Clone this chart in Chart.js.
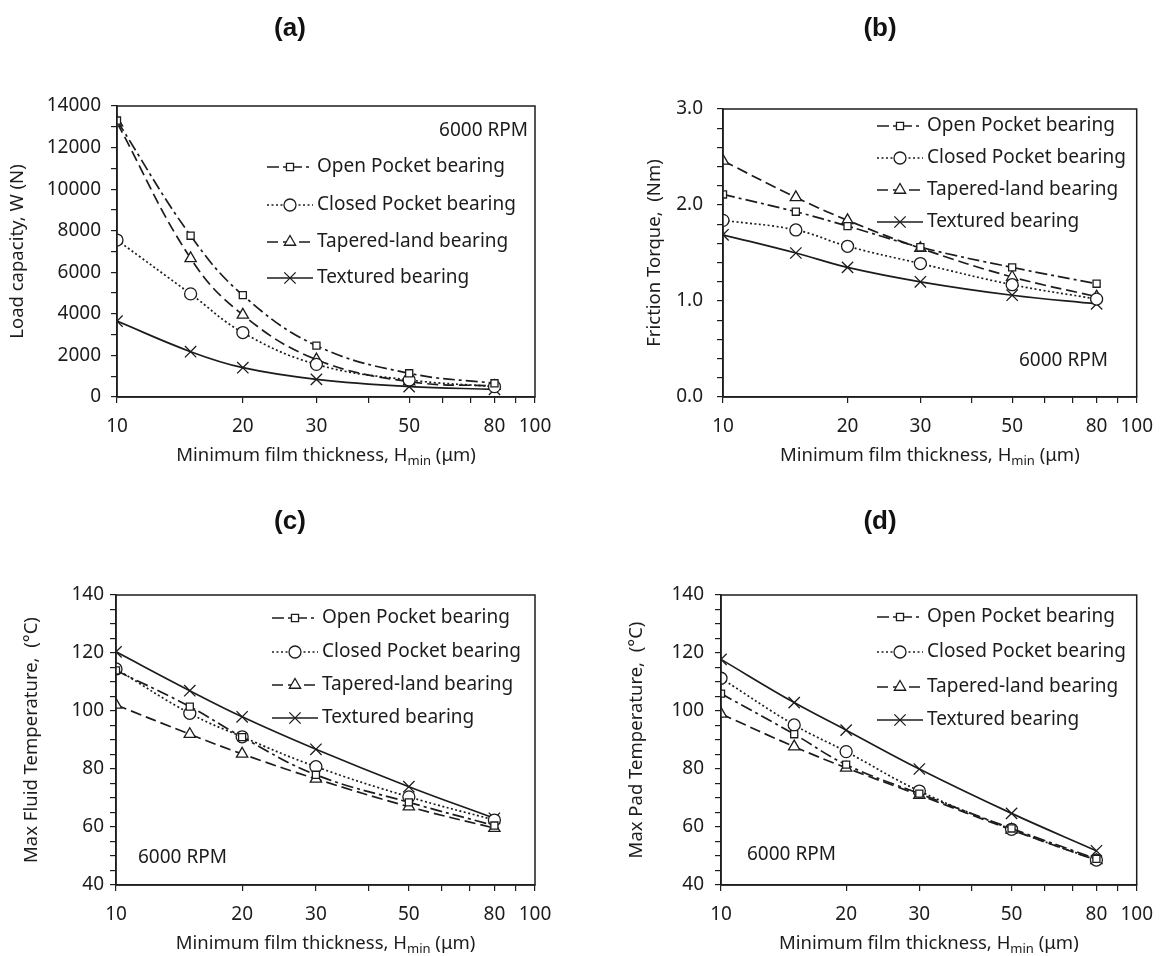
<!DOCTYPE html>
<html>
<head>
<meta charset="utf-8">
<script src="https://cdn.jsdelivr.net/npm/chart.js@4.4.1/dist/chart.umd.min.js"></script>
<style>
  body { margin: 0; background: #fff; }
  #page { position: relative; width: 1165px; height: 956px; overflow: hidden; background: #fff; }
  #page canvas { position: absolute; }
  .tag { position: absolute; transform: translate(-50%, -50%); font: bold 26px 'Liberation Sans', Arial, sans-serif; color: #111; z-index: 2; }
</style>
</head>
<body>
<div id="page">
  <div class="tag" style="left:290px; top:27px">(a)</div>
  <div class="tag" style="left:880px; top:27px">(b)</div>
  <div class="tag" style="left:290px; top:520px">(c)</div>
  <div class="tag" style="left:880px; top:520px">(d)</div>
  <canvas id="chartA" width="582" height="478" style="left:0; top:0"></canvas>
  <canvas id="chartB" width="583" height="478" style="left:582px; top:0"></canvas>
  <canvas id="chartC" width="582" height="478" style="left:0; top:478px"></canvas>
  <canvas id="chartD" width="583" height="478" style="left:582px; top:478px"></canvas>
</div>
<script>
// film thickness (um) and the four bearing types
const filmThickness = [10, 15, 20, 30, 50, 80];
const seriesNames = ['Open Pocket bearing', 'Closed Pocket bearing', 'Tapered-land bearing', 'Textured bearing'];
const xTickMarks = [10, 20, 30, 40, 50, 60, 70, 80, 90, 100];
const xTickLabels = [10, 20, 30, 50, 80, 100];

// (a) load capacity, N
const loadOpen = [13300, 7760, 4900, 2470, 1140, 660];
const loadClosed = [7550, 4960, 3100, 1570, 820, 500];
const loadTapered = [13200, 6670, 3950, 1800, 740, 530];
const loadTextured = [3650, 2180, 1410, 850, 500, 370];
const loadTicks = [0, 2000, 4000, 6000, 8000, 10000, 12000, 14000];

// (b) friction torque, Nm
const torqueOpen = [2.11, 1.93, 1.78, 1.56, 1.35, 1.18];
const torqueClosed = [1.84, 1.74, 1.57, 1.39, 1.17, 1.02];
const torqueTapered = [2.46, 2.08, 1.84, 1.55, 1.25, 1.045];
const torqueTextured = [1.69, 1.50, 1.35, 1.20, 1.06, 0.97];
const torqueTicks = [0, 1, 2, 3];

// (c) max fluid temperature, C
const fluidOpen = [114, 101.5, 91, 78, 68.5, 60.5];
const fluidClosed = [114.5, 99.2, 91.1, 80.8, 70.4, 62.4];
const fluidTapered = [102.1, 92.0, 85.2, 76.6, 67.0, 59.6];
const fluidTextured = [120.4, 107.0, 98.0, 86.8, 73.9, 63.0];
const tempTicks = [40, 60, 80, 100, 120, 140];

// (d) max pad temperature, C
const padOpen = [106, 92, 81.5, 71.5, 59.5, 49];
const padClosed = [111.3, 95.2, 86.0, 72.4, 59.2, 48.6];
const padTapered = [99.0, 87.7, 80.4, 71.0, 59.0, 48.5];
const padTextured = [117.8, 102.9, 93.4, 80.0, 64.7, 51.8];

const ink = '#1c1c1c';
const family = "'Noto Sans', 'DejaVu Sans', sans-serif";

const seriesStyle = [
  { dash: [12, 4, 3, 4], point: 'rect', radius: 5 },
  { dash: [2, 2.5], point: 'circle', radius: 6 },
  { dash: [11, 5], point: 'triangle', radius: 6.5 },
  { dash: [], point: 'crossRot', radius: 8 }
];

function makeDatasets(values) {
  return values.map((vals, i) => ({
    label: seriesNames[i],
    data: filmThickness.map((x, j) => ({ x: x, y: vals[j] })),
    borderColor: ink,
    borderWidth: 1.7,
    borderDash: seriesStyle[i].dash,
    tension: 0.4,
    fill: false,
    pointStyle: seriesStyle[i].point,
    pointRadius: seriesStyle[i].radius,
    pointBackgroundColor: '#fff',
    pointBorderColor: ink,
    pointBorderWidth: 1.3
  }));
}

// frame, axis titles, legend and speed note
const panelDecor = {
  id: 'panelDecor',
  afterDraw(chart, args, o) {
    const ctx = chart.ctx, a = chart.chartArea;
    ctx.save();
    ctx.strokeStyle = ink;
    ctx.lineWidth = 1.5;
    ctx.strokeRect(a.left, a.top, a.right - a.left, a.bottom - a.top);

    ctx.fillStyle = ink;
    // y title
    ctx.save();
    ctx.translate(a.left - o.yTitleOffset, (a.top + a.bottom) / 2);
    ctx.rotate(-Math.PI / 2);
    ctx.font = '18.5px ' + family;
    ctx.textAlign = 'center';
    ctx.textBaseline = 'middle';
    ctx.fillText(o.yTitle, 0, 0);
    ctx.restore();

    // x title with subscript
    const t1 = 'Minimum film thickness, H', t2 = 'min', t3 = ' (\u03bcm)';
    ctx.textAlign = 'left';
    ctx.textBaseline = 'alphabetic';
    ctx.font = '18.5px ' + family;
    const w1 = ctx.measureText(t1).width, w3 = ctx.measureText(t3).width;
    ctx.font = '13px ' + family;
    const w2 = ctx.measureText(t2).width;
    const x = (a.left + a.right) / 2 - (w1 + w2 + w3) / 2;
    const base = a.bottom + 64;
    ctx.font = '18.5px ' + family;
    ctx.fillText(t1, x, base);
    ctx.font = '13px ' + family;
    ctx.fillText(t2, x + w1, base + 4);
    ctx.font = '18.5px ' + family;
    ctx.fillText(t3, x + w1 + w2, base);

    // legend
    ctx.font = '19px ' + family;
    ctx.textBaseline = 'middle';
    o.legendRows.forEach((y, i) => {
      const s = seriesStyle[i];
      ctx.setLineDash(s.dash);
      ctx.lineWidth = 1.7;
      ctx.strokeStyle = ink;
      ctx.beginPath();
      ctx.moveTo(o.legendX, y);
      ctx.lineTo(o.legendX + 46, y);
      ctx.stroke();
      ctx.setLineDash([]);
      ctx.fillStyle = '#fff';
      ctx.lineWidth = 1.3;
      Chart.helpers.drawPoint(ctx, { pointStyle: s.point, radius: s.radius, borderWidth: 1.3, rotation: 0 }, o.legendX + 23, y);
      ctx.fillStyle = ink;
      ctx.fillText(seriesNames[i], o.legendX + 50, y);
    });

    // speed note
    ctx.textAlign = o.noteAlign;
    ctx.fillText('6000 RPM', o.noteX, o.noteY);
    ctx.restore();
  }
};

function makeChart(id, box, values, yCfg, decor) {
  const canvas = document.getElementById(id);
  const tickFont = { family: family, size: 19 };
  return new Chart(canvas, {
    type: 'line',
    data: { datasets: makeDatasets(values) },
    plugins: [panelDecor],
    options: {
      responsive: false,
      animation: false,
      events: [],
      layout: { padding: { left: 0, top: box.top, right: canvas.width - box.right, bottom: 0 } },
      plugins: { legend: { display: false }, tooltip: { enabled: false }, panelDecor: decor },
      scales: {
        x: {
          type: 'logarithmic', min: 10, max: 100,
          afterBuildTicks: s => { s.ticks = xTickMarks.map(v => ({ value: v })); },
          afterFit: s => { s.height = canvas.height - box.bottom; },
          ticks: {
            autoSkip: false, maxRotation: 0, padding: 12, color: ink, font: tickFont,
            callback: v => xTickLabels.includes(v) ? String(v) : ''
          },
          grid: { drawOnChartArea: false, tickLength: 6, color: ink, lineWidth: 1.2 },
          border: { color: ink, width: 1.5 }
        },
        y: {
          min: yCfg.min, max: yCfg.max,
          afterFit: s => { s.width = box.left; },
          ticks: {
            autoSkip: false, stepSize: yCfg.step, padding: yCfg.pad, color: ink, font: tickFont,
            callback: v => yCfg.labels.some(l => Math.abs(l - v) < 1e-6) ? yCfg.fmt(v) : ''
          },
          grid: { drawOnChartArea: false, tickLength: 6, color: ink, lineWidth: 1.2 },
          border: { color: ink, width: 1.5 }
        }
      }
    }
  });
}

makeChart('chartA', { left: 117, right: 535, top: 106, bottom: 397 },
  [loadOpen, loadClosed, loadTapered, loadTextured],
  { min: 0, max: 14000, step: 1000, pad: 10, labels: loadTicks, fmt: v => String(v) },
  { yTitle: 'Load capacity, W (N)', yTitleOffset: 99, legendX: 267, legendRows: [167, 205, 242, 278],
    noteAlign: 'right', noteX: 528, noteY: 131 });

makeChart('chartB', { left: 141, right: 559, top: 109, bottom: 397 },
  [torqueOpen, torqueClosed, torqueTapered, torqueTextured],
  { min: 0, max: 3, step: 0.2, pad: 14, labels: torqueTicks, fmt: v => v.toFixed(1) },
  { yTitle: 'Friction Torque,  (Nm)', yTitleOffset: 68, legendX: 295, legendRows: [126, 158, 190, 222],
    noteAlign: 'left', noteX: 437, noteY: 361 });

makeChart('chartC', { left: 116, right: 535, top: 117, bottom: 407 },
  [fluidOpen, fluidClosed, fluidTapered, fluidTextured],
  { min: 40, max: 140, step: 5, pad: 6, labels: tempTicks, fmt: v => String(Math.round(v)) },
  { yTitle: 'Max Fluid Temperature,  (\u00b0C)', yTitleOffset: 84, legendX: 272, legendRows: [140, 174, 207, 240],
    noteAlign: 'left', noteX: 138, noteY: 380 });

makeChart('chartD', { left: 139, right: 557, top: 117, bottom: 407 },
  [padOpen, padClosed, padTapered, padTextured],
  { min: 40, max: 140, step: 5, pad: 11, labels: tempTicks, fmt: v => String(Math.round(v)) },
  { yTitle: 'Max Pad Temperature,  (\u00b0C)', yTitleOffset: 84, legendX: 295, legendRows: [139, 174, 209, 242],
    noteAlign: 'left', noteX: 165, noteY: 377 });
</script>
</body>
</html>
